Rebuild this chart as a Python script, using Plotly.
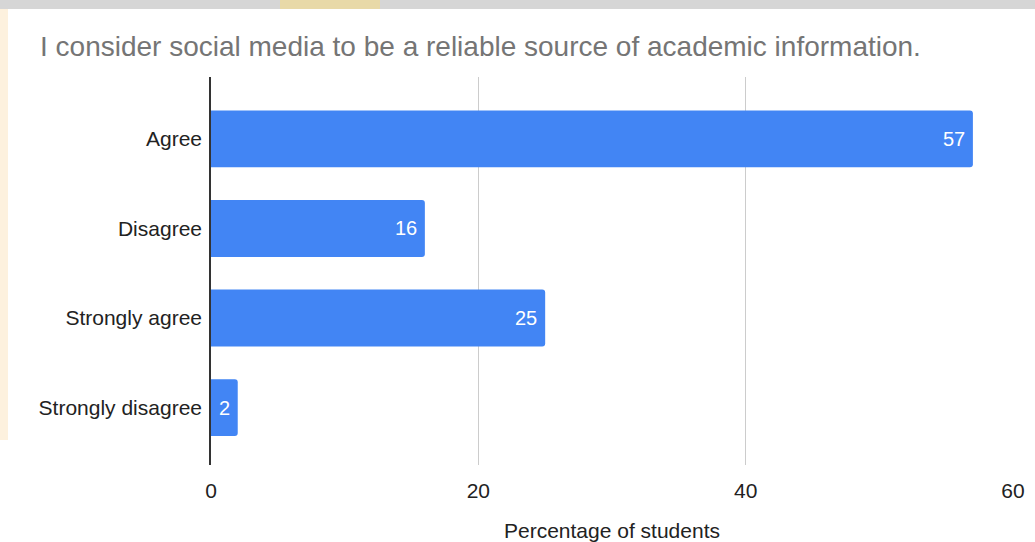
import plotly.graph_objects as go

# Survey responses
categories = ["Agree", "Disagree", "Strongly agree", "Strongly disagree"]
percentages = [57, 16, 25, 2]
x_ticks = [0, 20, 40, 60]

title_text = "I consider social media to be a reliable source of academic information."
x_title = "Percentage of students"

W, H = 1035, 542
L, R, T, B = 211, 22, 77, 77
FONT = "Liberation Sans, Arial, sans-serif"

fig = go.Figure()
fig.add_trace(go.Bar(
    y=categories,
    x=percentages,
    orientation="h",
    marker=dict(color="#4285f4", cornerradius=3, line=dict(width=0)),
    width=0.635,
    hoverinfo="x+y",
))

# value labels at the inner end of each bar
for cat, val in zip(categories, percentages):
    fig.add_annotation(
        x=val, y=cat, xref="x", yref="y",
        text=str(val), showarrow=False,
        xanchor="right", yanchor="middle", xshift=-6,
        font=dict(family=FONT, size=20, color="white"),
    )

# light banner strip along the top edge and a tinted strip on the left edge
pw, ph = W - L - R, H - T - B
def px_x(p):
    return (p - L) / pw
def px_y(p):
    return (H - B - p) / ph

fig.add_shape(type="rect", xref="paper", yref="paper",
              x0=px_x(0), x1=px_x(W), y0=px_y(9), y1=px_y(0),
              fillcolor="#d6d6d6", line=dict(width=0), layer="below")
fig.add_shape(type="rect", xref="paper", yref="paper",
              x0=px_x(280), x1=px_x(380), y0=px_y(9), y1=px_y(0),
              fillcolor="#e8d9a8", line=dict(width=0), layer="below")
fig.add_shape(type="rect", xref="paper", yref="paper",
              x0=px_x(0), x1=px_x(8), y0=px_y(440), y1=px_y(9),
              fillcolor="#fdf1de", line=dict(width=0), layer="below")

fig.update_layout(
    width=W, height=H,
    margin=dict(l=L, r=R, t=T, b=B, pad=0, autoexpand=False),
    paper_bgcolor="white",
    plot_bgcolor="white",
    showlegend=False,
    font=dict(family=FONT, size=21, color="#222222"),
    title=dict(
        text=title_text,
        x=40 / W, xanchor="left", xref="container",
        y=1 - 46 / H, yanchor="middle", yref="container",
        font=dict(family=FONT, size=28, color="#757575"),
    ),
    xaxis=dict(
        range=[0, 60],
        tickvals=x_ticks,
        automargin=False,
        showgrid=True, gridcolor="#cccccc", gridwidth=1.3,
        zeroline=False, showline=False,
        ticks="outside", ticklen=7, tickcolor="rgba(0,0,0,0)",
        tickfont=dict(family=FONT, size=21, color="#222222"),
        title=dict(text=x_title, font=dict(family=FONT, size=21, color="#222222"), standoff=27),
        fixedrange=True,
    ),
    yaxis=dict(
        categoryorder="array", categoryarray=categories,
        range=[3.64, -0.69],
        automargin=False,
        showgrid=False, zeroline=False,
        showline=True, linecolor="#333333", linewidth=1.6,
        ticks="outside", ticklen=3, tickcolor="rgba(0,0,0,0)",
        tickfont=dict(family=FONT, size=21, color="#222222"),
        fixedrange=True,
    ),
)

fig.write_html("out.html")
